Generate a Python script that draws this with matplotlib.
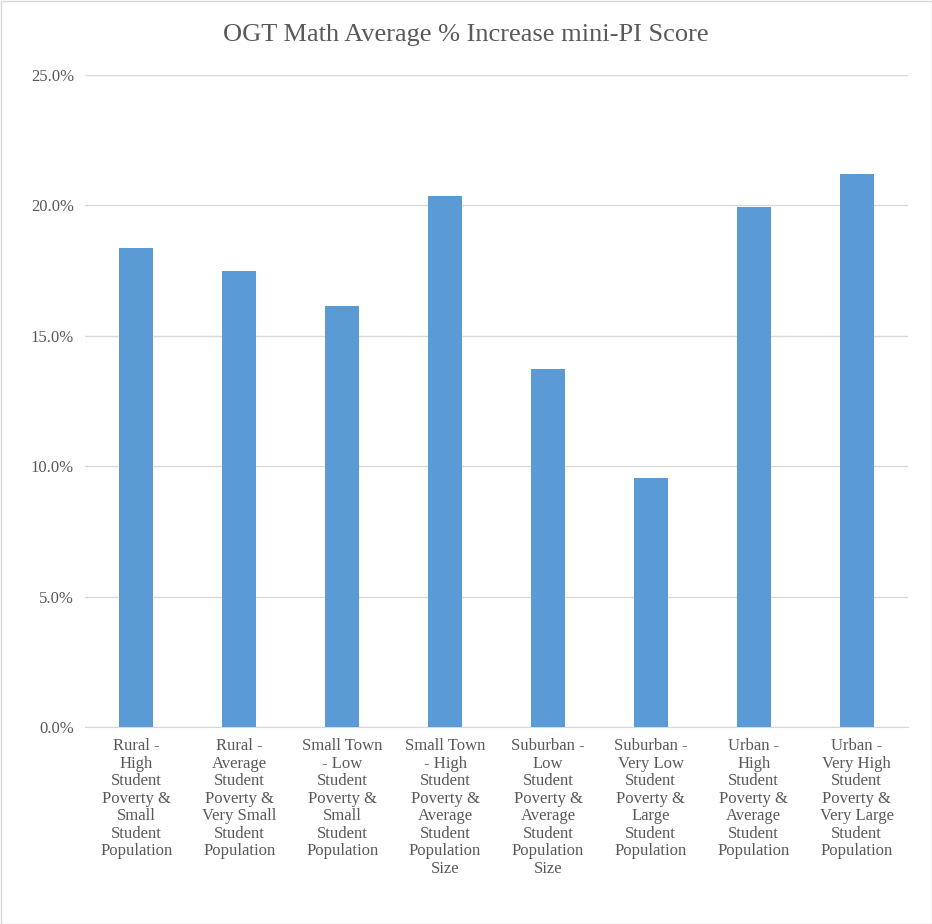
import matplotlib
matplotlib.use("Agg")
import matplotlib.pyplot as plt
from matplotlib.ticker import FuncFormatter
from matplotlib.patches import Rectangle

categories = [
    "Rural -\nHigh\nStudent\nPoverty &\nSmall\nStudent\nPopulation",
    "Rural -\nAverage\nStudent\nPoverty &\nVery Small\nStudent\nPopulation",
    "Small Town\n- Low\nStudent\nPoverty &\nSmall\nStudent\nPopulation",
    "Small Town\n- High\nStudent\nPoverty &\nAverage\nStudent\nPopulation\nSize",
    "Suburban -\nLow\nStudent\nPoverty &\nAverage\nStudent\nPopulation\nSize",
    "Suburban -\nVery Low\nStudent\nPoverty &\nLarge\nStudent\nPopulation",
    "Urban -\nHigh\nStudent\nPoverty &\nAverage\nStudent\nPopulation",
    "Urban -\nVery High\nStudent\nPoverty &\nVery Large\nStudent\nPopulation",
]
values = [18.37, 17.48, 16.14, 20.36, 13.73, 9.55, 19.94, 21.20]

plt.rcParams['font.family'] = ['Liberation Serif', 'DejaVu Serif']
fig = plt.figure(figsize=(9.32, 9.24), dpi=100)
ax = fig.add_axes([85/932, 1-727/924, 823/932, 652/924])
x = range(len(values))
ax.bar(x, values, width=0.33, color='#5B9BD5', zorder=3)
ax.set_xlim(-0.5, len(values)-0.5)
ax.set_ylim(0, 25)
ax.set_yticks([0, 5, 10, 15, 20, 25])
ax.yaxis.set_major_formatter(FuncFormatter(lambda v, p: f"{v:.1f}%"))
ax.set_xticks(list(x))
ax.set_xticklabels(categories, fontsize=12, color='#595959', linespacing=1.13, va='top')
ax.tick_params(axis='y', labelsize=12, labelcolor='#595959', length=0, pad=8)
ax.tick_params(axis='x', length=0, pad=8)
ax.grid(axis='y', color='#D9D9D9', linewidth=1, zorder=0)
for s in ['top', 'right', 'left']:
    ax.spines[s].set_visible(False)
ax.spines['bottom'].set_color('#D9D9D9')
fig.text(0.5, 1-35/924, "OGT Math Average % Increase mini-PI Score", ha='center', va='center',
         fontsize=19, color='#595959')
fig.patches.append(Rectangle((0.5/932, 0.5/924), 1-1/932, 1-1/924, transform=fig.transFigure,
                             fill=False, edgecolor='#D9D9D9', linewidth=1))
fig.savefig("out.png", dpi=100)
